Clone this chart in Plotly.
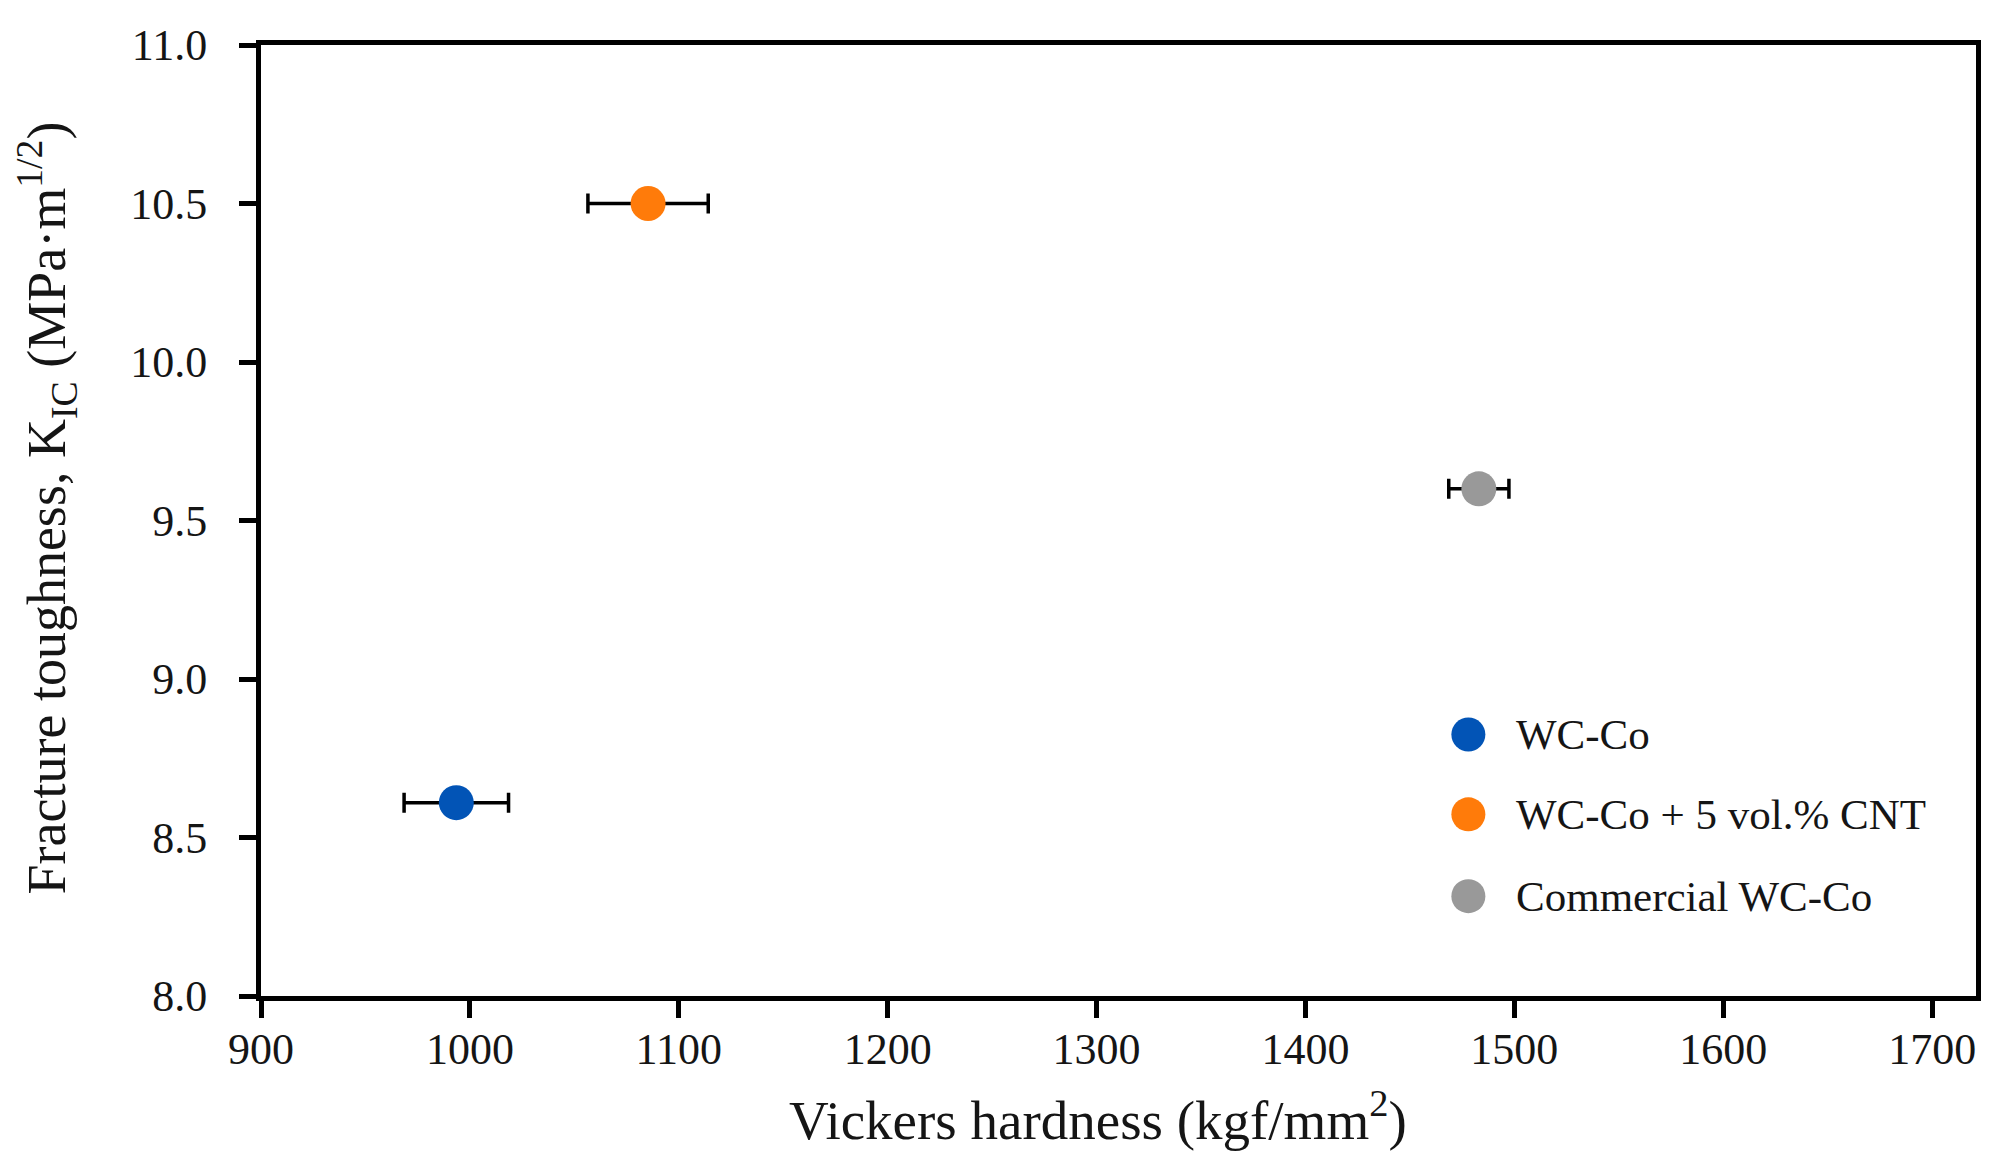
import plotly.graph_objects as go

# data
samples = ["WC-Co", "WC-Co + 5 vol.% CNT", "Commercial WC-Co"]
hardness = [993.5, 1085.3, 1483.0]          # kgf/mm2
hardness_err = [25.0, 28.8, 14.4]
toughness = [8.61, 10.50, 9.60]             # MPa m^1/2
colors = ["#0254B6", "#FF7B0A", "#999999"]

x_ticks = [900, 1000, 1100, 1200, 1300, 1400, 1500, 1600, 1700]
y_ticks = [8.0, 8.5, 9.0, 9.5, 10.0, 10.5, 11.0]

FONT = "Liberation Serif"
TXT = "#151515"

fig = go.Figure()

for name, x, xe, y, c in zip(samples, hardness, hardness_err, toughness, colors):
    fig.add_trace(go.Scatter(
        x=[x], y=[y],
        mode="markers",
        name=name,
        marker=dict(size=35, color=c),
        error_x=dict(type="data", array=[xe], visible=True,
                     color="black", thickness=3.5, width=10),
        showlegend=False,
    ))

# legend drawn by hand so the markers keep the same size as in the plot
leg_x = 0.704
leg_y = [0.275, 0.191, 0.105]
for name, c, ly in zip(samples, colors, leg_y):
    fig.add_shape(type="circle", xref="paper", yref="paper",
                  xsizemode="pixel", ysizemode="pixel",
                  xanchor=leg_x, yanchor=ly,
                  x0=-17, x1=17, y0=-17, y1=17,
                  fillcolor=c, line=dict(width=0))
    fig.add_annotation(x=leg_x, y=ly, xref="paper", yref="paper",
                       text=name, showarrow=False, xanchor="left",
                       yanchor="middle", xshift=46,
                       font=dict(family=FONT, size=43, color=TXT))

# axis titles as annotations (the original sits a bit off-centre)
fig.add_annotation(x=0.5, y=0, xref="paper", yref="paper",
                   xshift=-21, yshift=-120,
                   text="Vickers hardness (kgf/mm<sup>2</sup>)",
                   showarrow=False, xanchor="center", yanchor="middle",
                   font=dict(family=FONT, size=55, color=TXT))
fig.add_annotation(x=0, y=0.5, xref="paper", yref="paper",
                   xshift=-215, yshift=12, textangle=-90,
                   text="Fracture toughness, K<sub>IC</sub> (MPa·m<sup>1/2</sup>)",
                   showarrow=False, xanchor="center", yanchor="middle",
                   font=dict(family=FONT, size=54, color=TXT))

fig.update_layout(
    width=2002, height=1168,
    margin=dict(l=253, r=34, t=37, b=180),
    paper_bgcolor="white",
    plot_bgcolor="white",
    font=dict(family=FONT, size=44, color=TXT),
)

fig.update_xaxes(
    range=[900, 1721],
    tickvals=x_ticks,
    ticks="outside", ticklen=17, tickwidth=4.5, tickcolor="black",
    showline=True, linewidth=5, linecolor="black", mirror=True,
    showgrid=False, zeroline=False,
    tickfont=dict(size=44),
    ticklabelstandoff=-7,
)
fig.update_yaxes(
    range=[8.0, 11.0],
    tickvals=y_ticks,
    tickformat=".1f",
    ticks="outside", ticklen=17, tickwidth=4.5, tickcolor="black",
    showline=True, linewidth=5, linecolor="black", mirror=True,
    showgrid=False, zeroline=False,
    tickfont=dict(size=44),
    ticklabelstandoff=23,
)

fig.write_html("out.html")
